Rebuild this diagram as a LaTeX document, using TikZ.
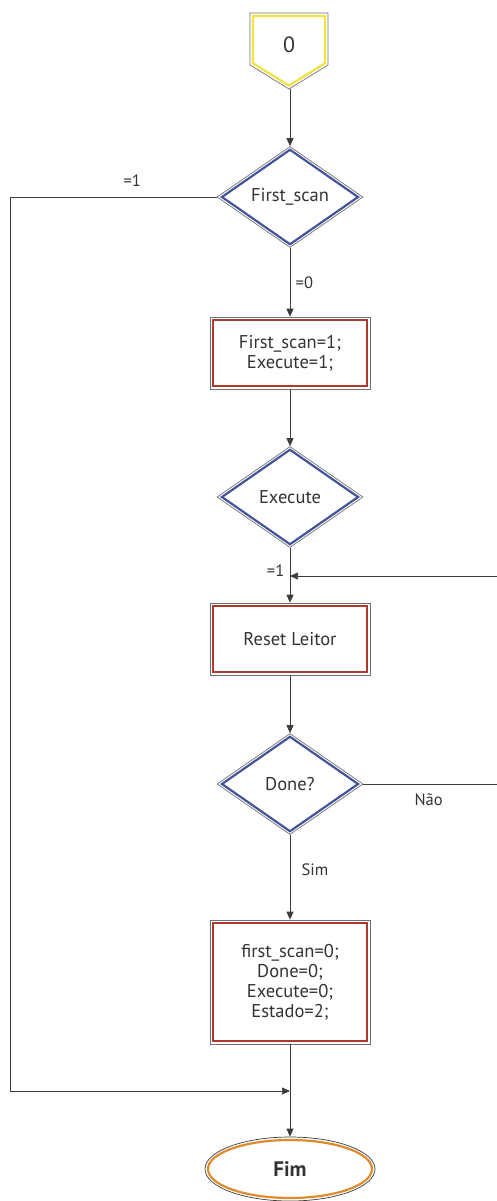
\documentclass[tikz,border=0pt]{standalone}
\usepackage{fontspec}
\setmainfont{PT Sans}
\usetikzlibrary{shapes.geometric,arrows.meta}

\definecolor{decblue}{HTML}{44549A}
\definecolor{boxred}{HTML}{B0382C}
\definecolor{endorange}{HTML}{E08A2C}
\definecolor{startyellow}{HTML}{F0E43C}
\definecolor{edgegray}{HTML}{707070}
\definecolor{linegray}{HTML}{3C3C3C}

\begin{document}
\begin{tikzpicture}[
    x=1pt, y=-1pt,
    every node/.style={text=black!80, font=\fontsize{18.5}{20}\selectfont},
    decision/.style={
      diamond,
      draw=edgegray,
      line width=0.7pt,
      inner sep=0pt,
      aspect=1.45,
      minimum width=146pt,
      minimum height=101pt
    },
    action/.style={
      rectangle,
      draw=edgegray,
      line width=0.7pt,
      align=center,
      minimum width=160pt,
      minimum height=72pt
    },
    terminal/.style={
      ellipse,
      draw=linegray,
      line width=0.7pt,
      minimum width=170pt,
      minimum height=64pt
    },
    tag/.style={font=\fontsize{16.5}{18}\selectfont},
    flow/.style={draw=linegray, line width=0.7pt, -{Triangle[length=8pt,width=7pt]}},
]

\useasboundingbox (0,0) rectangle (497,1201);

% start connector
\draw[edgegray, line width=0.7pt] (250,13) -- (328,13) -- (328,65) -- (289,89) -- (250,65) -- cycle;
\draw[startyellow, line width=2.2pt, line join=miter] (253,16) -- (325,16) -- (325,63.3) -- (289,85.6) -- (253,63.3) -- cycle;
\node (start) at (289,45) {\fontsize{22}{24}\selectfont 0};
\coordinate (start tip) at (290,89);

% main column
\node[decision] (fscan) at (290,197) {First\_scan};
\node[action] (set) at (290,353) {First\_scan=1;\\Execute=1;};
\node[decision] (exec) at (290,497) {Execute};
\node[action] (reset) at (290,639) {Reset Leitor};
\node[decision] (done) at (290,784) {Done?};
\node[action, minimum height=124pt] (clear) at (290,982) {first\_scan=0;\\Done=0;\\Execute=0;\\Estado=2;};
\node[terminal] (fim) at (290,1169) {\fontsize{21}{24}\selectfont\bfseries Fim};

\coordinate (loop in) at (290,576);
\coordinate (join) at (290,1091);

% inner borders
\foreach \n in {fscan,exec,done}
  \draw[decblue, line width=2.2pt, line join=miter]
    ([yshift=-3.6pt]\n.north) -- ([xshift=-5.3pt]\n.east) -- ([yshift=3.6pt]\n.south) -- ([xshift=5.3pt]\n.west) -- cycle;
\foreach \n in {set,reset,clear}
  \draw[boxred, line width=2.2pt]
    ([shift={(3pt,-3pt)}]\n.north west) rectangle ([shift={(-3pt,3pt)}]\n.south east);
\draw[endorange, line width=2.2pt] (fim.center) ellipse [x radius=82pt, y radius=29pt];

% connectors
\draw[flow] (start tip) -- (fscan.north);
\draw[flow] (fscan.west) -- node[tag, pos=0.41, above=7pt] {=1} ++(-206,0) |- (join);
\draw[flow] (fscan.south) -- node[tag, right=2pt] {=0} (set.north);
\draw[flow] (set.south) -- (exec.north);
\draw[flow] (exec.south) -- node[tag, pos=0.42, left=2pt] {=1} (reset.north);
\draw[flow] (reset.south) -- (done.north);
\draw[flow] (done.east) -- node[tag, pos=0.48, below=6pt] {Não} ++(136,0) |- (loop in);
\draw[flow] (done.south) -- node[tag, pos=0.415, right=8pt] {Sim} (clear.north);
\draw[flow] (clear.south) -- (fim.north);

\end{tikzpicture}
\end{document}
